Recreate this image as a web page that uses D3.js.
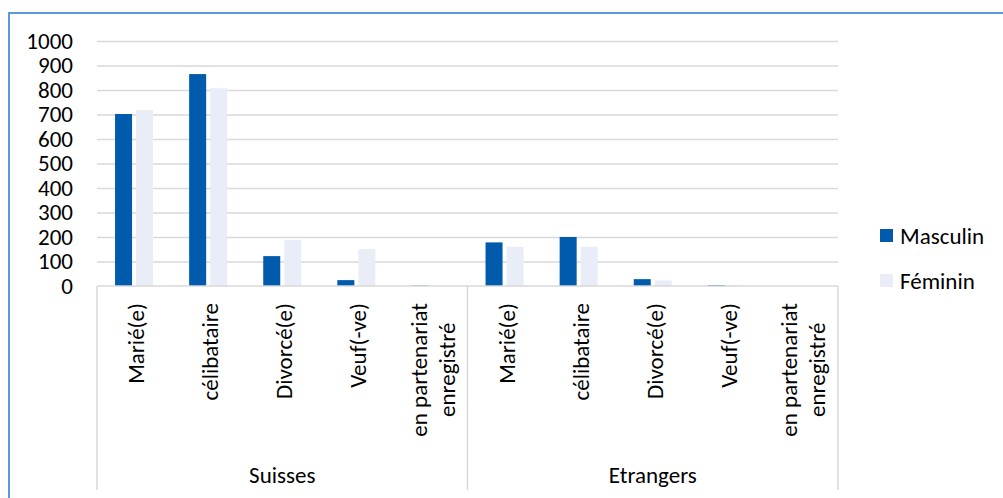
<!DOCTYPE html>
<html>
<head>
<meta charset="utf-8">
<script src="https://cdn.jsdelivr.net/npm/d3@7"></script>
<style>
  body { margin: 0; background: #fff; }
  svg { display: block; font-family: Calibri, Carlito, "Open Sans", sans-serif; }
</style>
</head>
<body>
<div id="chart"></div>
<script>
const groups = ["Suisses", "Etrangers"];
const statuses = ["Marié(e)", "célibataire", "Divorcé(e)", "Veuf(-ve)", "en partenariat\nenregistré"];
const series = ["Masculin", "Féminin"];
const masculin = [702, 865, 122, 24, 2, 178, 200, 28, 4, 0];
const feminin = [718, 807, 188, 151, 2, 160, 160, 23, 3, 0];
const yTicks = [0, 100, 200, 300, 400, 500, 600, 700, 800, 900, 1000];

const colors = { Masculin: "#005bac", "Féminin": "#e8edf7" };
const grid = "#d9d9d9";
const fontFamily = 'Calibri, Carlito, "Open Sans", sans-serif';
const fontSize = 23;

const W = 1003, H = 498;
const plotL = 97, plotR = 838, plotT = 41, base = 286, axisBottom = 490;

const cats = [];
groups.forEach(g => statuses.forEach(s => cats.push({ id: g + "|" + s, group: g, label: s })));
const rows = cats.map((c, i) => ({ ...c, Masculin: masculin[i], "Féminin": feminin[i] }));

const svg = d3.select("#chart").append("svg")
    .attr("width", W)
    .attr("height", H);

// frame
svg.append("path")
    .attr("d", `M9,${H} V13 H${W}`)
    .attr("fill", "none")
    .attr("stroke", "#5b9bd5")
    .attr("stroke-width", 2);

const x = d3.scaleBand()
    .domain(cats.map(d => d.id))
    .range([plotL, plotR])
    .paddingInner(0.487)
    .paddingOuter(0.2435);

const xs = d3.scaleBand()
    .domain(series)
    .range([0, x.bandwidth()])
    .paddingInner(0.19);

const xg = d3.scaleBand()
    .domain(groups)
    .range([plotL, plotR]);

const y = d3.scaleLinear()
    .domain([0, 1000])
    .range([base, plotT]);

// gridlines
svg.append("g")
    .attr("transform", `translate(${plotL},0)`)
    .call(d3.axisLeft(y).tickValues(yTicks.slice(1)).tickSize(-(plotR - plotL)).tickFormat(""))
    .call(g => g.select(".domain").remove())
    .call(g => g.selectAll("line").attr("stroke", grid).attr("stroke-width", 1.5));

// y labels
svg.append("g")
    .attr("transform", `translate(${plotL},0)`)
    .call(d3.axisLeft(y).tickValues(yTicks).tickSize(0).tickPadding(24).tickFormat(d3.format("d")))
    .call(g => g.select(".domain").remove())
    .call(g => g.selectAll("text")
        .attr("font-family", fontFamily)
        .attr("font-size", fontSize)
        .attr("fill", "#000"));

// bars
svg.append("g")
    .selectAll("g")
    .data(rows)
    .join("g")
    .attr("transform", d => `translate(${x(d.id)},0)`)
    .selectAll("rect")
    .data(d => series.map(s => ({ key: s, value: d[s] })))
    .join("rect")
    .attr("x", d => xs(d.key))
    .attr("width", xs.bandwidth())
    .attr("y", d => y(d.value))
    .attr("height", d => base - y(d.value))
    .attr("fill", d => colors[d.key]);

// category axis
const ax = svg.append("g").attr("stroke", grid).attr("stroke-width", 1.5);
ax.append("line").attr("x1", plotL).attr("x2", plotR).attr("y1", base).attr("y2", base);
ax.selectAll(".sep")
    .data([...groups.map(g => xg(g)), plotR])
    .join("line")
    .attr("x1", d => d).attr("x2", d => d)
    .attr("y1", base).attr("y2", axisBottom);

// rotated category labels
const labelTop = 303;
const lineGap = 28;
const lab = svg.append("g")
    .attr("font-size", fontSize)
    .attr("fill", "#000");

rows.forEach(d => {
    const cx = x(d.id) + x.bandwidth() / 2 + 2;
    const lines = d.label.split("\n");
    if (lines.length == 1) {
        lab.append("text")
            .attr("transform", `translate(${cx},${labelTop}) rotate(-90)`)
            .attr("text-anchor", "end")
            .attr("dy", "0.35em")
            .text(lines[0]);
    } else {
        const tmp = lab.append("text").text(lines[0]);
        const len = d3.max(lines, l => { tmp.text(l); return tmp.node().getComputedTextLength(); });
        tmp.remove();
        const cy = labelTop + len / 2;
        lines.forEach((l, i) => {
            const off = (i - (lines.length - 1) / 2) * lineGap;
            lab.append("text")
                .attr("transform", `translate(${cx + off},${cy}) rotate(-90)`)
                .attr("text-anchor", "middle")
                .attr("dy", "0.35em")
                .text(l);
        });
    }
});

// group labels
svg.append("g")
    .selectAll("text")
    .data(groups)
    .join("text")
    .attr("x", d => xg(d) + xg.bandwidth() / 2)
    .attr("y", 475)
    .attr("dy", "0.35em")
    .attr("text-anchor", "middle")
    .attr("font-size", fontSize)
    .text(d => d);

// legend
const leg = svg.append("g")
    .selectAll("g")
    .data(series)
    .join("g")
    .attr("transform", (d, i) => `translate(880,${229 + i * 45})`);
leg.append("rect")
    .attr("width", 13)
    .attr("height", 13)
    .attr("fill", d => colors[d]);
leg.append("text")
    .attr("x", 20)
    .attr("y", 6.5)
    .attr("dy", "0.35em")
    .attr("font-size", fontSize)
    .text(d => d);
</script>
</body>
</html>
